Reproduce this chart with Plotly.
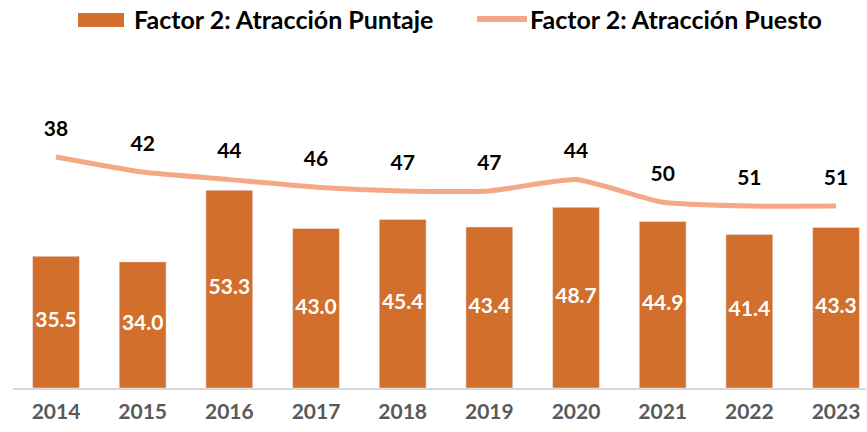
import plotly.graph_objects as go

years = ["2014", "2015", "2016", "2017", "2018", "2019", "2020", "2021", "2022", "2023"]
puntaje = [35.5, 34.0, 53.3, 43.0, 45.4, 43.4, 48.7, 44.9, 41.4, 43.3]
puesto = [38, 42, 44, 46, 47, 47, 44, 50, 51, 51]
series_names = ["Factor 2: Atracción Puntaje", "Factor 2: Atracción Puesto"]

bar_color = "#D26F2C"
line_color = "#F4A886"
font_family = "Lato, 'Open Sans', sans-serif"

fig = go.Figure()
fig.add_trace(go.Bar(
    x=years, y=puntaje, name=series_names[0],
    marker=dict(color=bar_color), width=0.54, showlegend=False,
    yaxis="y",
))
# bar value labels centred in each bar
fig.add_trace(go.Scatter(
    x=years, y=[v / 2 for v in puntaje], mode="text", showlegend=False,
    text=[f"<b>{v:.1f}</b>" for v in puntaje], textposition="middle center",
    textfont=dict(color="white", size=21, family=font_family),
    yaxis="y", hoverinfo="skip",
))
fig.add_trace(go.Scatter(
    x=years, y=puesto, name=series_names[1], showlegend=False,
    mode="lines+markers+text",
    line=dict(color=line_color, width=5, shape="spline", smoothing=0.5),
    marker=dict(size=24, color="rgba(0,0,0,0)"),
    text=[f"<b>{v}</b>" for v in puesto], textposition="top center",
    textfont=dict(size=21, color="#000000", family=font_family),
    yaxis="y2", cliponaxis=False,
))

# legend drawn at the top (wide swatches as in the original)
fig.add_shape(type="rect", xref="paper", yref="paper", x0=0.0762, x1=0.1301, y0=0.9304, y1=0.9665,
              fillcolor=bar_color, line=dict(width=0))
fig.add_shape(type="line", xref="paper", yref="paper", x0=0.544, x1=0.6026, y0=0.951, y1=0.951,
              line=dict(color=line_color, width=6))
fig.add_annotation(xref="paper", yref="paper", x=0.1395, y=0.951, xanchor="left", yanchor="middle",
                   text=f"<b>{series_names[0]}</b>", showarrow=False,
                   font=dict(size=25, color="#000000", family=font_family))
fig.add_annotation(xref="paper", yref="paper", x=0.6038, y=0.951, xanchor="left", yanchor="middle",
                   text=f"<b>{series_names[1]}</b>", showarrow=False,
                   font=dict(size=25, color="#000000", family=font_family))

fig.update_layout(
    width=867, height=432,
    margin=dict(l=13, r=1, t=0, b=44, autoexpand=False),
    plot_bgcolor="white", paper_bgcolor="white",
    showlegend=False, hovermode=False,
    xaxis=dict(range=[-0.496, 9.346], showline=True, linecolor="#D9D9D9", linewidth=2,
               ticks="", ticklabelstandoff=4,
               tickfont=dict(size=21, color="#595959", family=font_family, weight="bold"),
               showgrid=False, automargin=False, zeroline=False),
    yaxis=dict(range=[0, 104.6], showticklabels=False, showgrid=False, zeroline=False,
               showline=False, automargin=False),
    yaxis2=dict(range=[99.27, -3.64], overlaying="y", side="right", showticklabels=False,
                showgrid=False, zeroline=False, showline=False, automargin=False),
)

fig.write_html("out.html", config={"displayModeBar": False, "staticPlot": True},
               post_script="document.body.style.margin='0';")
